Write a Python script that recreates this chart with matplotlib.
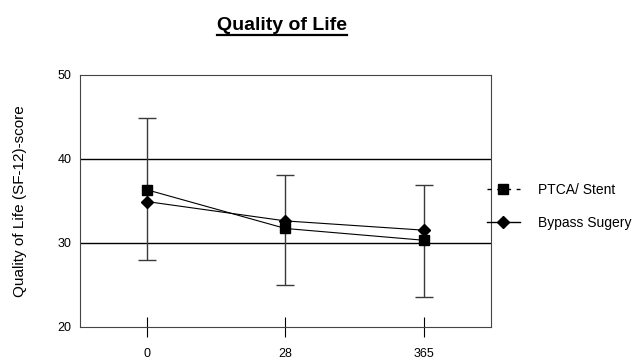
import numpy as np
import matplotlib.pyplot as plt
from matplotlib.lines import Line2D

plt.rcParams['font.family'] = ['Liberation Sans', 'DejaVu Sans']

days = ["0", "28", "365"]
ptca = [36.3, 31.7, 30.3]
ptca_low = [28.0, 25.0, 23.6]
ptca_high = [44.8, 38.1, 36.9]
bypass = [34.9, 32.6, 31.5]

x = np.arange(len(days))
yerr = [np.array(ptca) - np.array(ptca_low), np.array(ptca_high) - np.array(ptca)]

fig = plt.figure(figsize=(6.35, 3.62), dpi=100)
ax = fig.add_axes([0.126, 0.097, 0.647, 0.697])

# grid lines at 30 and 40
for g in [30, 40]:
    ax.axhline(g, color="black", linewidth=1.0, zorder=1)

ax.errorbar(x, ptca, yerr=yerr, fmt="none", ecolor="#3a3a3a", elinewidth=1.0,
            capsize=6.5, capthick=1.0, zorder=2)
ax.plot(x, ptca, color="black", linewidth=0.8, marker="s", markersize=7, zorder=3)
ax.plot(x, bypass, color="black", linewidth=0.8, marker="D", markersize=6, zorder=3)

ax.set_xlim(-0.484, 2.484)
ax.set_ylim(20, 50)
ax.set_xticks(x)
ax.set_xticklabels(days)
ax.set_yticks([20, 30, 40, 50])
ax.tick_params(axis="x", direction="inout", length=14, width=0.8, labelsize=9, pad=8)
ax.tick_params(axis="y", length=0, labelsize=9, pad=6)
for s in ax.spines.values():
    s.set_linewidth(0.8)
    s.set_color("#444444")

fig.text(0.031, 0.445, "Quality of Life (SF-12)-score", rotation=90,
         ha="center", va="center", fontsize=11)

handles = [
    Line2D([], [], color="black", linewidth=1.0, linestyle=(0, (3, 4)), marker="s", markersize=7),
    Line2D([], [], color="black", linewidth=1.0, marker="D", markersize=6),
]
fig.legend(handles, ["PTCA/ Stent", "Bypass Sugery"], loc="upper left",
           bbox_to_anchor=(0.7555, 0.514), frameon=False, fontsize=10,
           handlelength=2.4, handletextpad=1.3, labelspacing=1.4, borderpad=0)

# underlined bold title
t = fig.text(0.444, 0.93, "Quality of Life", ha="center", va="center",
             fontsize=14, fontweight="bold")
fig.canvas.draw()
bb = t.get_window_extent().transformed(fig.transFigure.inverted())
fig.add_artist(Line2D([bb.x0, bb.x1], [bb.y0 - 0.004, bb.y0 - 0.004],
                      transform=fig.transFigure, color="black", linewidth=1.6))

fig.savefig("out.png", dpi=100)
